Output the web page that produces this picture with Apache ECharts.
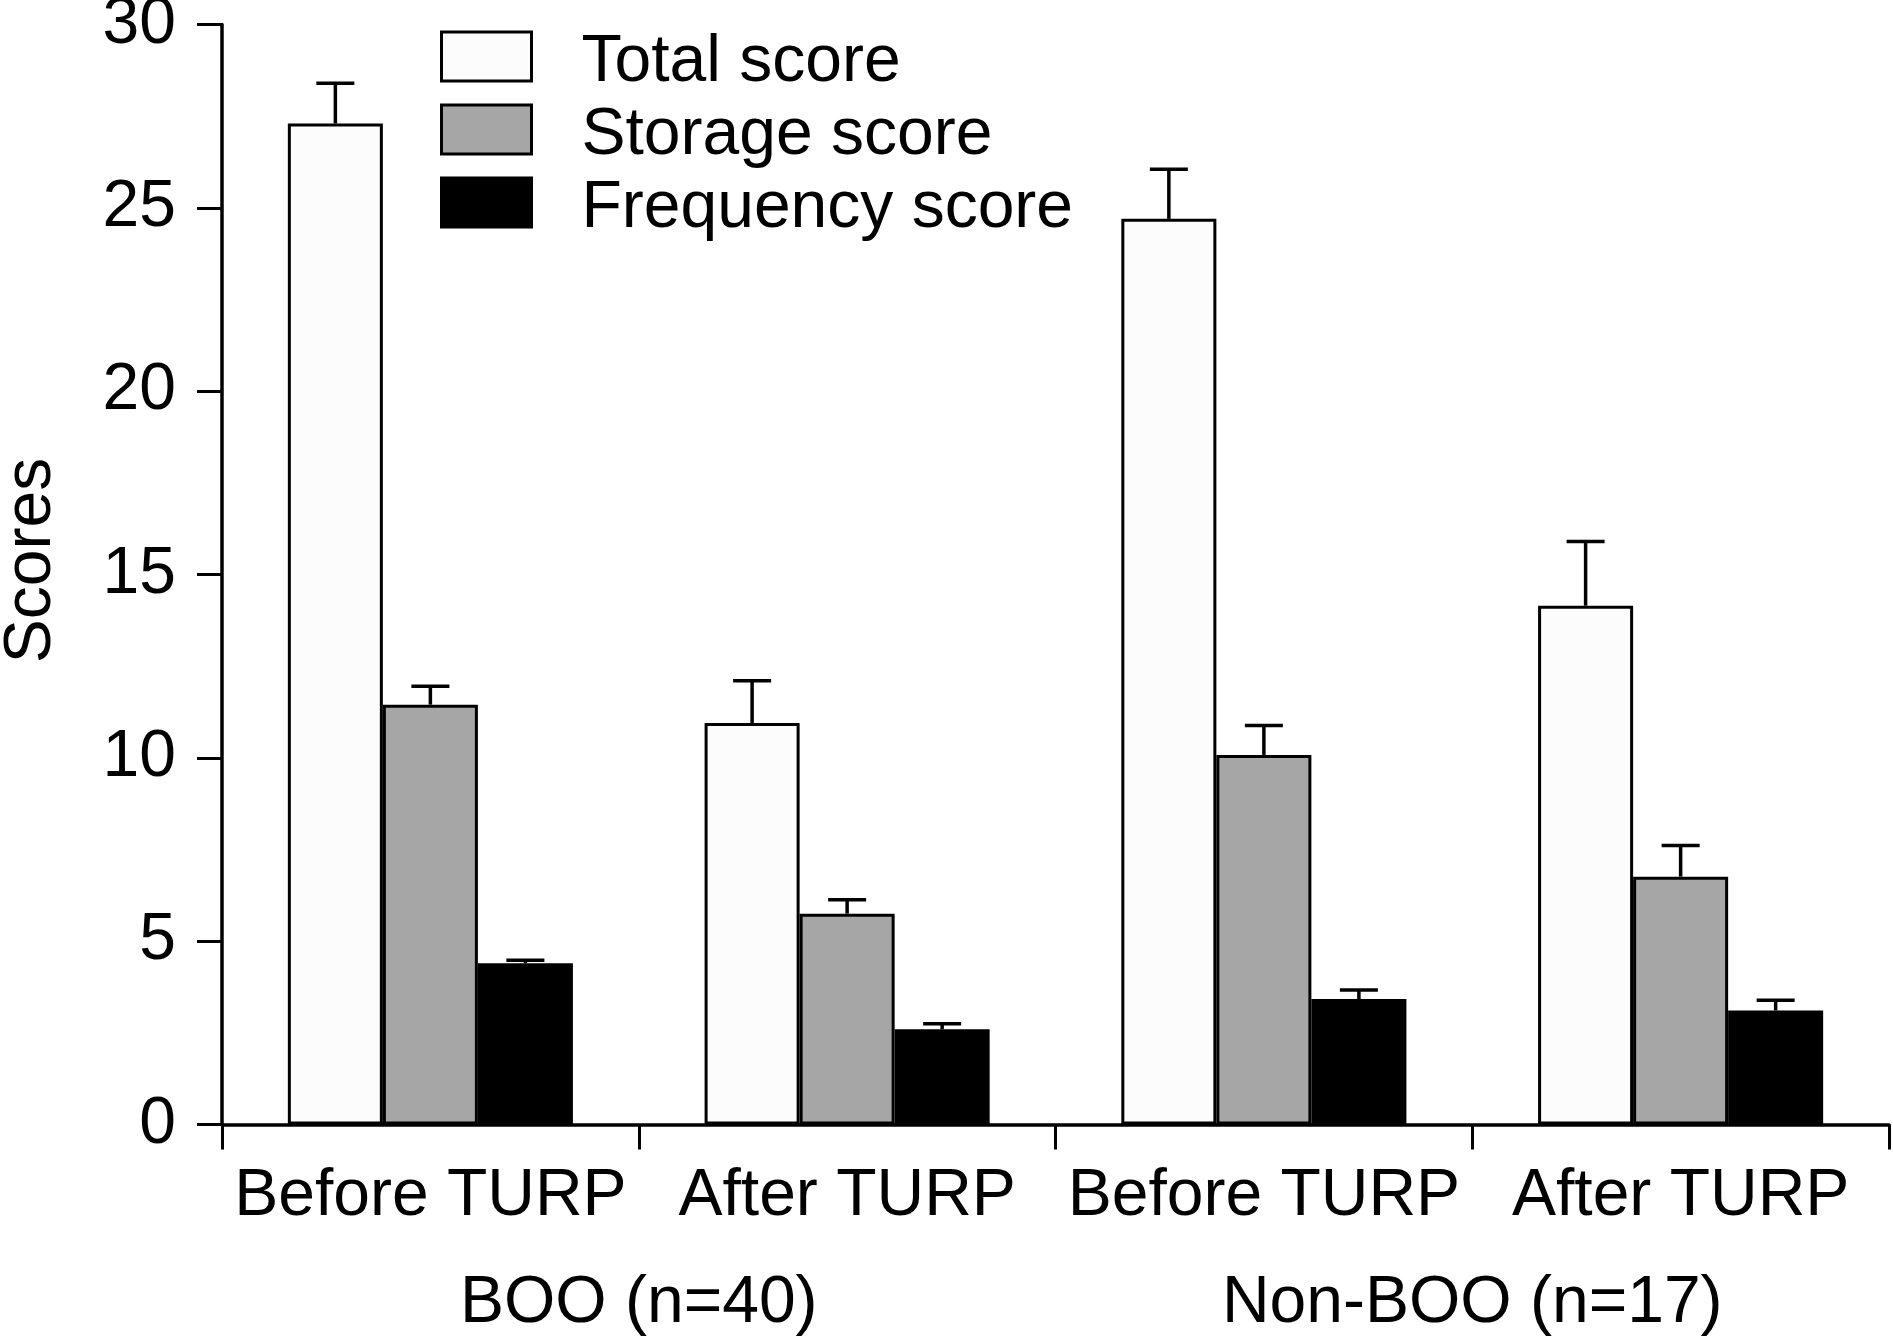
<!DOCTYPE html>
<html>
<head>
<meta charset="utf-8">
<script src="https://cdn.jsdelivr.net/npm/echarts@6/dist/echarts.min.js"></script>
<style>
  html, body { margin: 0; padding: 0; background: #ffffff; }
  #chart { width: 1893px; height: 1338px; }
</style>
</head>
<body>
<div id="chart"></div>
<script>
// ---- data ----
const categories = ['Before TURP', 'After TURP', 'Before TURP', 'After TURP'];
const groups = ['BOO (n=40)', 'Non-BOO (n=17)'];
const seriesNames = ['Total score', 'Storage score', 'Frequency score'];
const totalScore = [27.3, 10.95, 24.7, 14.15];
const totalErr = [1.1, 1.15, 1.35, 1.75];
const storageScore = [11.45, 5.75, 10.08, 6.76];
const storageErr = [0.5, 0.38, 0.8, 0.85];
const frequencyScore = [4.4, 2.6, 3.42, 3.11];
const frequencyErr = [0.08, 0.15, 0.25, 0.28];
const yTicks = [0, 5, 10, 15, 20, 25, 30];

// ---- styles ----
const FONT = 'Liberation Sans, Arial, Helvetica, sans-serif';
const FS = 66;
const colors = ['#fcfcfc', '#a6a6a6', '#000000'];
const BAR_FRAC = 0.228;

const values = [totalScore, storageScore, frequencyScore];
const errs = [totalErr, storageErr, frequencyErr];

const barSeries = seriesNames.map((name, i) => ({
  name: name,
  type: 'bar',
  barWidth: (BAR_FRAC * 100) + '%',
  barGap: '0%',
  data: values[i],
  itemStyle: { color: colors[i], borderColor: '#000', borderWidth: 3 },
  z: 2
}));

const errSeries = seriesNames.map((name, i) => ({
  name: name + ' err',
  type: 'custom',
  z: 3,
  data: values[i].map((v, k) => [k, v, v + errs[i][k]]),
  renderItem: function (params, api) {
    const band = api.size([1, 0])[0];
    const off = (i - 1) * band * BAR_FRAC;
    const p1 = api.coord([api.value(0), api.value(1)]);
    const p2 = api.coord([api.value(0), api.value(2)]);
    const x = p1[0] + off;
    const capHalf = 19;
    const st = { stroke: '#000', lineWidth: 3.5 };
    return {
      type: 'group',
      children: [
        { type: 'line', shape: { x1: x, y1: p1[1], x2: x, y2: p2[1] }, style: st },
        { type: 'line', shape: { x1: x - capHalf, y1: p2[1], x2: x + capHalf, y2: p2[1] }, style: st }
      ]
    };
  }
}));

const chart = echarts.init(document.getElementById('chart'), null, { renderer: 'canvas' });
chart.setOption({
  backgroundColor: '#ffffff',
  animation: false,
  textStyle: { fontFamily: FONT, color: '#000' },
  grid: { left: 222, right: 4, top: 24.5, bottom: 213.5, containLabel: false, outerBoundsMode: 'none' },
  legend: {
    data: seriesNames,
    orient: 'vertical',
    left: 440,
    top: 29.5,
    padding: 0,
    itemWidth: 90,
    itemHeight: 49,
    itemGap: 7,
    icon: 'rect',
    itemStyle: { borderColor: '#000', borderWidth: 3 },
    formatter: function (name) { return '{t|' + name + '}'; },
    textStyle: {
      fontFamily: FONT, fontSize: FS, color: '#000',
      rich: { t: { fontFamily: FONT, fontSize: FS, color: '#000', padding: [12, 0, 0, 45] } }
    }
  },
  xAxis: [
    {
      type: 'category',
      data: categories,
      position: 'bottom',
      axisLine: { lineStyle: { color: '#000', width: 3.5 } },
      axisTick: { show: true, length: 25, interval: 0, lineStyle: { color: '#000', width: 3 } },
      axisLabel: { interval: 0, margin: 40, fontSize: FS, lineHeight: 65, color: '#000', fontFamily: FONT },
      splitLine: { show: false }
    },
    {
      type: 'category',
      data: groups,
      position: 'bottom',
      axisLine: { show: false },
      axisTick: { show: false },
      axisLabel: { interval: 0, margin: 147, fontSize: FS, lineHeight: 65, color: '#000', fontFamily: FONT },
      splitLine: { show: false }
    }
  ],
  yAxis: {
    type: 'value',
    min: yTicks[0],
    max: yTicks[yTicks.length - 1],
    interval: 5,
    name: 'Scores',
    nameLocation: 'middle',
    nameRotate: 90,
    nameGap: 157,
    nameTextStyle: { fontSize: FS, color: '#000', fontFamily: FONT, padding: [0, 0, 0, 28] },
    axisLine: { show: true, lineStyle: { color: '#000', width: 3.5 } },
    axisTick: { show: true, length: 25, lineStyle: { color: '#000', width: 3 } },
    axisLabel: { margin: 46, fontSize: FS, color: '#000', fontFamily: FONT },
    splitLine: { show: false }
  },
  series: barSeries.concat(errSeries)
});
</script>
</body>
</html>
